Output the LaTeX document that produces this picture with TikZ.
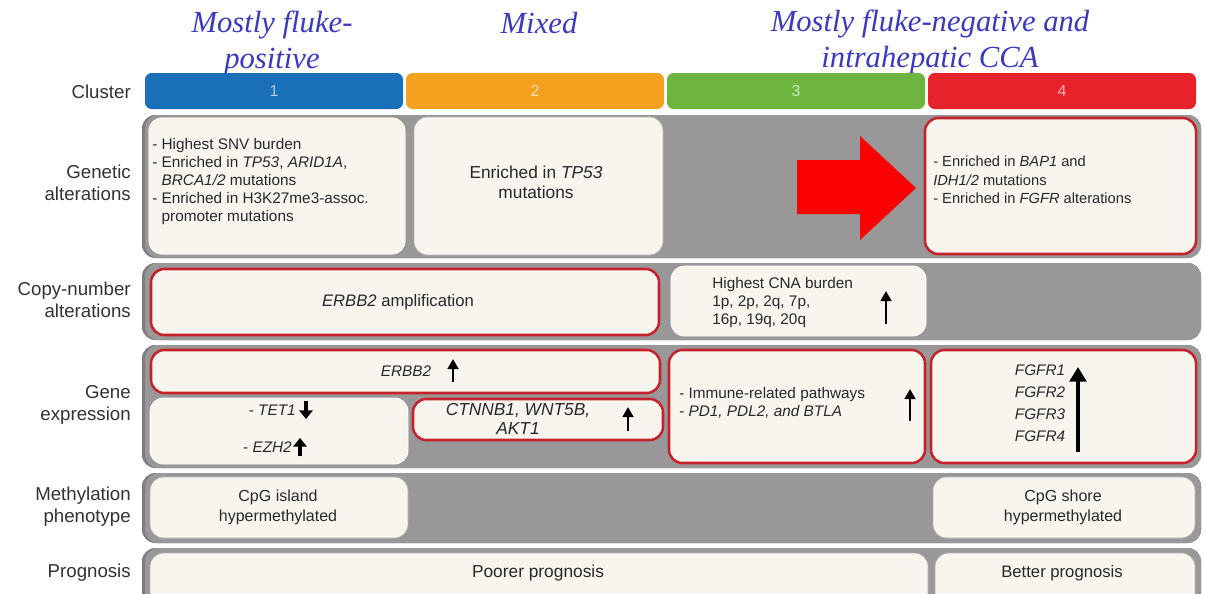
\documentclass[tikz,border=0pt]{standalone}
\usepackage{fontspec}
\setmainfont{Liberation Sans}
\newfontfamily\serifit{Liberation Serif}
\usetikzlibrary{fit,arrows.meta}

\definecolor{cblue}{RGB}{26,111,185}
\definecolor{corange}{RGB}{245,160,30}
\definecolor{cgreen}{RGB}{109,181,63}
\definecolor{cred}{RGB}{230,34,42}
\definecolor{bandgray}{RGB}{153,151,151}
\definecolor{banddark}{RGB}{125,123,123}
\definecolor{creamc}{RGB}{247,245,238}
\definecolor{redb}{RGB}{198,34,46}
\definecolor{arrowred}{RGB}{250,0,0}
\definecolor{txtc}{RGB}{40,40,40}
\definecolor{lblc}{RGB}{50,50,50}
\definecolor{ttlc}{RGB}{58,58,192}

\begin{document}
\begin{tikzpicture}[x=0.75pt,y=-0.75pt,
  band/.style={fill=bandgray, draw=none, rounded corners=10pt, inner sep=0pt},
  bar/.style={rounded corners=5pt, inner sep=0pt},
  num/.style={font=\fontsize{12}{14}\selectfont, inner sep=0pt},
  cream/.style={fill=creamc, draw=black!30, line width=0.6pt, rounded corners=10pt, inner sep=0pt},
  redbox/.style={fill=creamc, draw=redb, line width=1.9pt, rounded corners=10pt, inner sep=0pt},
  txt/.style={font=\fontsize{11.5}{13.5}\selectfont, text=txtc, inner sep=0pt, align=center},
  bigtxt/.style={txt, font=\fontsize{13}{15}\selectfont},
  txtl/.style={txt, align=left, anchor=west},
  lbl/.style={font=\fontsize{14}{16.5}\selectfont, text=lblc, align=right, anchor=east, inner sep=0pt},
  ttl/.style={font=\serifit\itshape\fontsize{23}{26.5}\selectfont, text=ttlc, align=center, anchor=base, inner sep=0pt},
  uparr/.style={line width=1.8pt, -{Triangle[width=8pt,length=7.5pt]}},
  bigarr/.style={line width=3.5pt, -{Triangle[width=12.5pt,length=11pt]}},
  blockarr/.style={line width=3.6pt, -{Triangle[width=10pt,length=6.5pt]}},
]
\fill[white] (0,0) rectangle (1205,593);
\useasboundingbox (0,0) rectangle (1205,593);

% cluster titles (base anchor sits on the last line)
\node[ttl] (t1) at (272,68) {Mostly fluke-\\positive};
\node[ttl] (t2) at (539,33) {Mixed};
\node[ttl] (t3) at (930,67) {Mostly fluke-negative and\\intrahepatic CCA};

% cluster bars
\node[bar, fill=cblue, fit={(145,73) (403,109)}] (c1) {};
\node[bar, fill=corange, fit={(406,73) (664,109)}] (c2) {};
\node[bar, fill=cgreen, fit={(667,73) (925,109)}] (c3) {};
\node[bar, fill=cred, fit={(928,73) (1196,109)}] (c4) {};
\node[num, text=cblue!35!white] (c1n) at (c1.center) {1};
\node[num, text=corange!35!white] (c2n) at (c2.center) {2};
\node[num, text=cgreen!35!white] (c3n) at (c3.center) {3};
\node[num, text=cred!35!white] (c4n) at (c4.center) {4};

% row labels
\node[lbl] (lc) at (131,92) {Cluster};
\node[lbl] (lg) at (131,183) {Genetic\\alterations};
\node[lbl] (lcn) at (131,300) {Copy-number\\alterations};
\node[lbl] (le) at (131,405) {Gene\\expression};
\node[lbl] (lm) at (131,507) {Methylation\\phenotype};
\node[lbl] (lp) at (131,573) {Prognosis};

% grey row bands, with a darker rim on the left
\foreach \ya/\yb/\nm in {115/258/b2, 263/340/b3, 345/468/b4, 473/543/b5, 548/612/b6}{
  \node[band, fill=banddark, fit={(142,\ya) (1201,\yb)}] (\nm r) {};
  \node[band, fit={(145,\ya) (1201,\yb)}] (\nm) {};
}

% genetic alterations
\node[cream, draw=black!45, fit={(148,117) (406,255)}] (g1) {};
\node[cream, fit={(414,117) (663,255)}] (g2) {};
\node[redbox, fit={(925,118) (1196,254)}] (g4) {};
\fill[arrowred] (797,160) -- (860,160) -- (860,136) -- (916,188) -- (860,240) -- (860,214) -- (797,214) -- cycle;
\node[txtl] (g1t) at (152,182) {- Highest SNV burden\\- Enriched in \textit{TP53}, \textit{ARID1A},\\\phantom{- }\textit{BRCA1/2} mutations\\- Enriched in H3K27me3-assoc.\\\phantom{- }promoter mutations};
\node[bigtxt] (g2t) at (536,182) {Enriched in \textit{TP53}\\mutations};
\node[txtl, font=\fontsize{11}{14}\selectfont] (g4t) at (933,180) {- Enriched in \textit{BAP1} and\\\textit{IDH1/2} mutations\\- Enriched in \textit{FGFR} alterations};

% copy-number alterations
\node[redbox, fit={(151,269) (659,335)}] (n1) {};
\node[cream, draw=white, fit={(671,266) (926,336)}] (n3) {};
\node[txt, font=\fontsize{12.5}{15}\selectfont] (n1t) at (398,302) {\textit{ERBB2} amplification};
\node[txtl] (n3t) at (712,303) {Highest CNA burden\\1p, 2p, 2q, 7p,\\16p, 19q, 20q};
\coordinate (n3a) at (886,324);
\coordinate (n3b) at (886,291);
\draw[uparr] (n3a) -- (n3b);

% gene expression
\node[redbox, fit={(151,350) (660,393)}] (e1) {};
\node[cream, draw=white, fit={(150,398) (408,464)}] (e2) {};
\node[redbox, fit={(413,399) (663,440)}] (e3) {};
\node[redbox, fit={(669,350) (925,463)}] (e4) {};
\node[redbox, fit={(931,350) (1196,463)}] (e5) {};
\node[txt] (e1t) at (406,371) {\textit{ERBB2}};
\coordinate (e1a) at (453,382);
\coordinate (e1b) at (453,359);
\draw[uparr] (e1a) -- (e1b);
\node[txt, anchor=east] (e2a) at (296,410) {- \textit{TET1}};
\coordinate (e2c) at (306,401);
\coordinate (e2d) at (306,419);
\draw[blockarr] (e2c) -- (e2d);
\node[txt, anchor=east] (e2b) at (292,447) {- \textit{EZH2}};
\coordinate (e2e) at (300,456);
\coordinate (e2f) at (300,438);
\draw[blockarr] (e2e) -- (e2f);
\node[bigtxt, font=\fontsize{13}{14}\selectfont] (e3t) at (518,419) {\textit{CTNNB1, WNT5B,}\\\textit{AKT1}};
\coordinate (e3a) at (628,431);
\coordinate (e3b) at (628,407);
\draw[uparr] (e3a) -- (e3b);
\node[txtl] (e4t) at (679,403) {- Immune-related pathways\\- \textit{PD1, PDL2, and BTLA}};
\coordinate (e4a) at (910,421);
\coordinate (e4b) at (910,389);
\draw[uparr] (e4a) -- (e4b);
\node[txt, font=\fontsize{11.5}{16.5}\selectfont] (e5t) at (1040,403) {\textit{FGFR1}\\\textit{FGFR2}\\\textit{FGFR3}\\\textit{FGFR4}};
\coordinate (e5a) at (1078,452);
\coordinate (e5b) at (1078,367);
\draw[bigarr] (e5a) -- (e5b);

% methylation phenotype
\node[cream, fit={(150,477) (408,538)}] (m1) {};
\node[cream, fit={(933,477) (1195,538)}] (m4) {};
\node[txt, font=\fontsize{12}{15}\selectfont] (m1t) at (278,507) {CpG island\\hypermethylated};
\node[txt, font=\fontsize{12}{15}\selectfont] (m4t) at (1063,507) {CpG shore\\hypermethylated};

% prognosis
\node[cream, fit={(150,553) (928,610)}] (p1) {};
\node[cream, fit={(935,553) (1195,610)}] (p4) {};
\node[bigtxt] (p1t) at (538,573) {Poorer prognosis};
\node[txt, font=\fontsize{12.5}{15}\selectfont] (p4t) at (1062,573) {Better prognosis};
\end{tikzpicture}
\end{document}
